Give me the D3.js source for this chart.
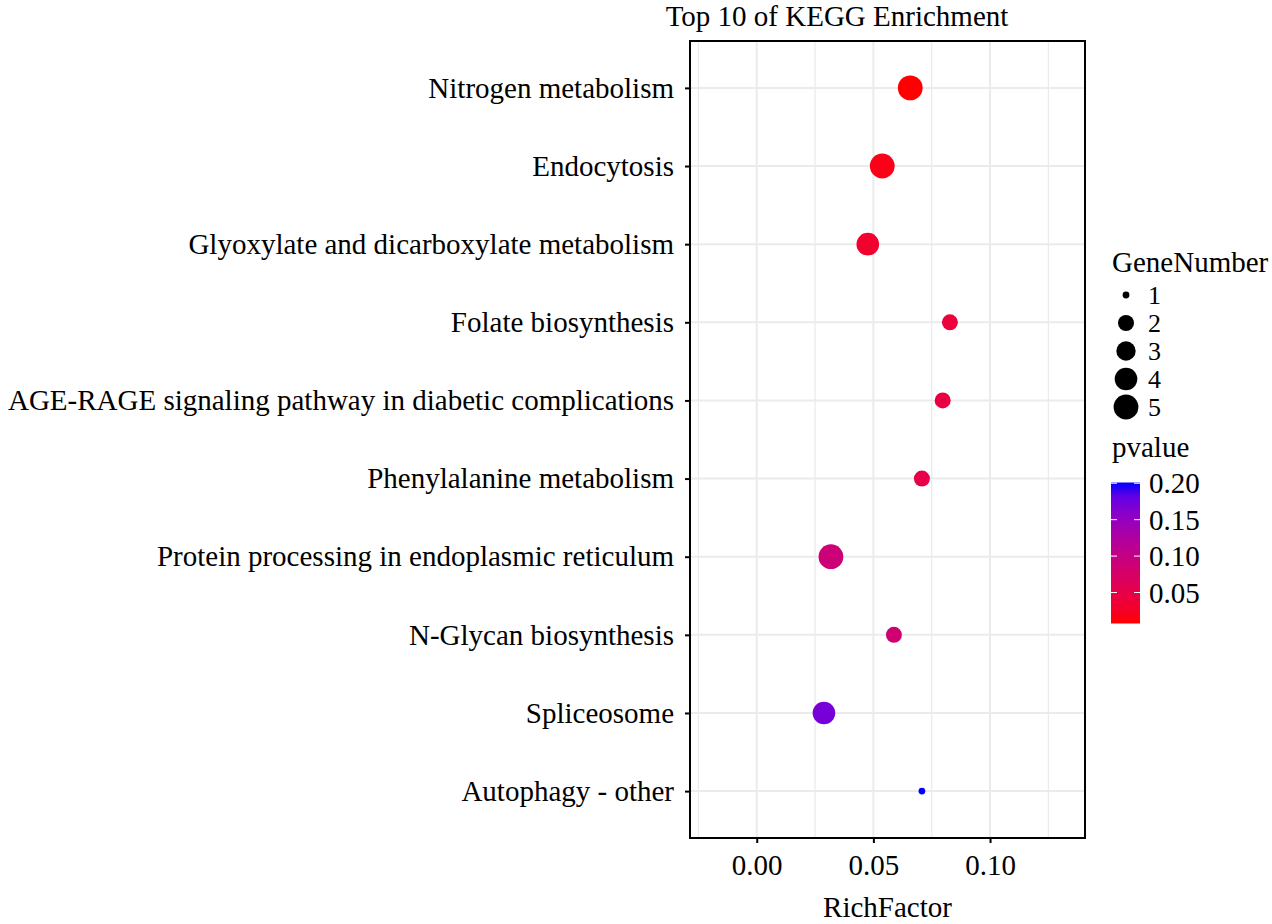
<!DOCTYPE html>
<html>
<head>
<meta charset="utf-8">
<script src="https://cdn.jsdelivr.net/npm/d3@7"></script>
<style>
  body { margin: 0; background: #fff; }
  text { font-family: "Liberation Serif", "Times New Roman", serif; fill: #000; }
</style>
</head>
<body>
<div id="chart"></div>
<script>
// pathways, top to bottom
var pathways = ["Nitrogen metabolism", "Endocytosis", "Glyoxylate and dicarboxylate metabolism",
  "Folate biosynthesis", "AGE-RAGE signaling pathway in diabetic complications",
  "Phenylalanine metabolism", "Protein processing in endoplasmic reticulum",
  "N-Glycan biosynthesis", "Spliceosome", "Autophagy - other"];
var richFactor = [0.0658, 0.0538, 0.0476, 0.0828, 0.0797, 0.0708, 0.0318, 0.0588, 0.0288, 0.0708];
var geneNumber = [5, 5, 4, 2, 2, 2, 5, 2, 4, 1];
var pvalue = [0.0075, 0.015, 0.03, 0.04, 0.045, 0.05, 0.09, 0.085, 0.17, 0.201];

var xTicks = [0, 0.05, 0.10];
var xMinor = [-0.025, 0.025, 0.075, 0.125];
var sizeLevels = [1, 2, 3, 4, 5];
var pTicks = [0.05, 0.10, 0.15, 0.20];

var W = 1272, H = 924;
var fs = 29;
var panel = {left: 690, right: 1085, top: 41, bottom: 838};

var svg = d3.select("#chart").append("svg")
  .attr("width", W).attr("height", H);

svg.append("rect").attr("width", W).attr("height", H).attr("fill", "#fff");

var x = d3.scaleLinear().domain([-0.0286, 0.1407]).range([panel.left, panel.right]);
var y = d3.scalePoint().domain(pathways).range([panel.top, panel.bottom]).padding(0.6);
var r = d3.scaleLinear().domain(sizeLevels).range([3.4, 8, 9.7, 11.3, 12.4]);
var color = d3.scaleLinear().domain(d3.extent(pvalue)).range(["red", "blue"])
  .interpolate(d3.interpolateLab);

var data = pathways.map((d, i) => ({name: d, rf: richFactor[i], n: geneNumber[i], p: pvalue[i]}));

// grid
var g = svg.append("g");
g.selectAll(".minor").data(xMinor).enter().append("line")
  .attr("x1", d => x(d)).attr("x2", d => x(d))
  .attr("y1", panel.top).attr("y2", panel.bottom)
  .attr("stroke", "#ebebeb").attr("stroke-width", 1.3);
g.selectAll(".major").data(xTicks).enter().append("line")
  .attr("x1", d => x(d)).attr("x2", d => x(d))
  .attr("y1", panel.top).attr("y2", panel.bottom)
  .attr("stroke", "#ebebeb").attr("stroke-width", 2);
g.selectAll(".hgrid").data(pathways).enter().append("line")
  .attr("x1", panel.left).attr("x2", panel.right)
  .attr("y1", d => y(d)).attr("y2", d => y(d))
  .attr("stroke", "#ebebeb").attr("stroke-width", 2);

// points
svg.append("g").selectAll("circle").data(data).enter().append("circle")
  .attr("cx", d => x(d.rf)).attr("cy", d => y(d.name))
  .attr("r", d => r(d.n))
  .attr("fill", d => color(d.p));

// panel border
svg.append("rect")
  .attr("x", panel.left).attr("y", panel.top)
  .attr("width", panel.right - panel.left).attr("height", panel.bottom - panel.top)
  .attr("fill", "none").attr("stroke", "#000").attr("stroke-width", 2);

// axes
var xAxis = svg.append("g").attr("transform", "translate(0," + panel.bottom + ")")
  .call(d3.axisBottom(x).tickValues(xTicks).tickFormat(d3.format(".2f")).tickSize(5).tickPadding(11));
var yAxis = svg.append("g").attr("transform", "translate(" + panel.left + ",0)")
  .call(d3.axisLeft(y).tickSize(5).tickPadding(11));
[xAxis, yAxis].forEach(a => {
  a.select(".domain").remove();
  a.selectAll(".tick line").attr("stroke", "#000").attr("stroke-width", 2);
  a.selectAll(".tick text").attr("font-size", fs).attr("font-family", null).attr("fill", "#000");
});
xAxis.selectAll(".tick text").attr("dy", "0.71em");

svg.append("text").attr("x", (panel.left + panel.right) / 2).attr("y", 917)
  .attr("text-anchor", "middle").attr("font-size", fs).text("RichFactor");

svg.append("text").attr("x", 837).attr("y", 26)
  .attr("text-anchor", "middle").attr("font-size", fs).text("Top 10 of KEGG Enrichment");

// size legend
var lg = svg.append("g");
lg.append("text").attr("x", 1112).attr("y", 272).attr("font-size", fs).text("GeneNumber");
var keyY = d3.scalePoint().domain(sizeLevels).range([295, 407]);
lg.selectAll(".key").data(sizeLevels).enter().append("circle")
  .attr("cx", 1126).attr("cy", d => keyY(d)).attr("r", d => r(d)).attr("fill", "#000");
lg.selectAll(".keylab").data(sizeLevels).enter().append("text")
  .attr("x", 1148).attr("y", d => keyY(d)).attr("dy", "0.35em")
  .attr("font-size", 26).text(d => d);

// colour bar
lg.append("text").attr("x", 1112).attr("y", 457).attr("font-size", fs).text("pvalue");
var bar = {x: 1111, w: 29, top: 482.5, bottom: 623.5};
var cb = d3.scaleLinear().domain(d3.extent(pvalue)).range([bar.bottom, bar.top]);
var grad = svg.append("defs").append("linearGradient").attr("id", "pgrad")
  .attr("x1", 0).attr("y1", 1).attr("x2", 0).attr("y2", 0);
d3.range(0, 1.0001, 0.1).forEach(t => {
  var v = color.domain()[0] + t * (color.domain()[1] - color.domain()[0]);
  grad.append("stop").attr("offset", t).attr("stop-color", color(v));
});
lg.append("rect").attr("x", bar.x).attr("y", bar.top)
  .attr("width", bar.w).attr("height", bar.bottom - bar.top).attr("fill", "url(#pgrad)");
lg.selectAll(".tl").data(pTicks).enter().append("line")
  .attr("x1", bar.x).attr("x2", bar.x + 6).attr("y1", d => cb(d)).attr("y2", d => cb(d))
  .attr("stroke", "#fff").attr("stroke-width", 1);
lg.selectAll(".tr").data(pTicks).enter().append("line")
  .attr("x1", bar.x + bar.w - 6).attr("x2", bar.x + bar.w).attr("y1", d => cb(d)).attr("y2", d => cb(d))
  .attr("stroke", "#fff").attr("stroke-width", 1);
lg.selectAll(".plab").data(pTicks).enter().append("text")
  .attr("x", 1149).attr("y", d => cb(d)).attr("dy", "0.35em")
  .attr("font-size", fs).text(d => d3.format(".2f")(d));
</script>
</body>
</html>
